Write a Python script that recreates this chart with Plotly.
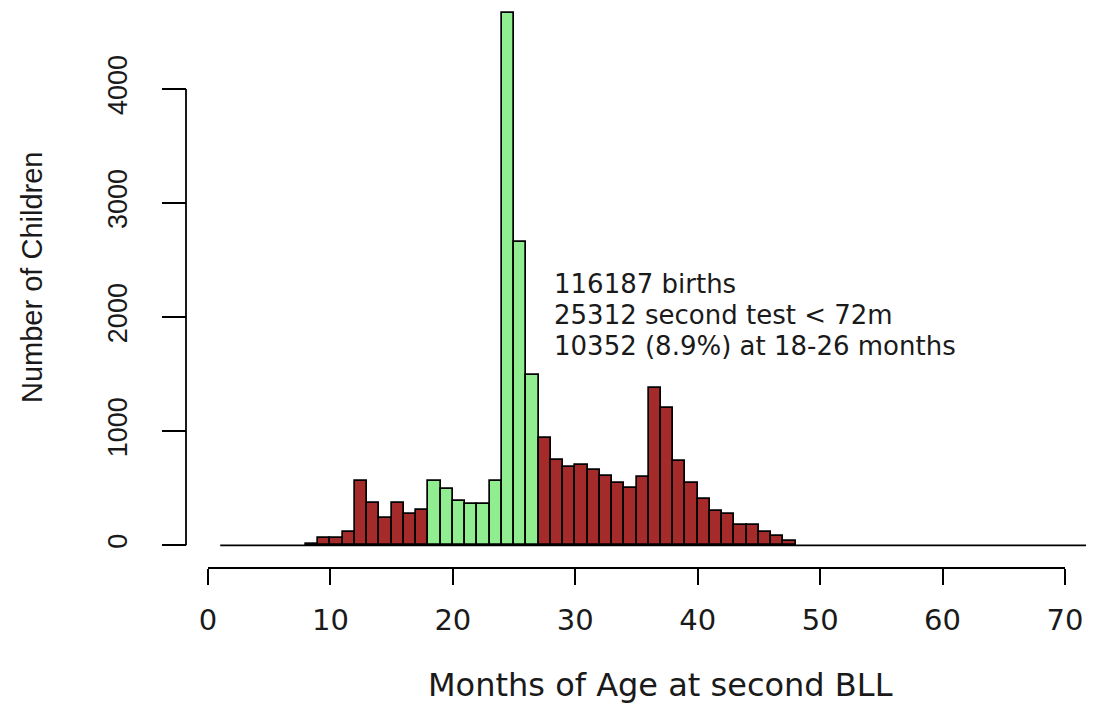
import plotly.graph_objects as go

# ---------------- data ----------------
bin_left = list(range(8, 48))          # left edges of the non-empty 1-month bins
counts = [15, 67, 65, 114, 564, 368, 242, 368, 272, 310,
          564, 494, 388, 362, 362, 564, 4665, 2662, 1492,
          945, 752, 689, 704, 660, 607, 543, 500, 596, 1382, 1200,
          739, 543, 403, 300, 272, 178, 178, 114, 82, 38]
hist_breaks = [1, 72]                   # first and last break of the histogram
highlight = [18, 27]                    # months 18-26 highlighted
x_ticks = [0, 10, 20, 30, 40, 50, 60, 70]
y_ticks = [0, 1000, 2000, 3000, 4000]
note_lines = ["116187 births", "25312 second test &lt; 72m", "10352 (8.9%) at 18-26 months"]
x_title = "Months of Age at second BLL"
y_title = "Number of Children"

# ---------------- layout geometry (pixels) ----------------
# the page body has an 8px margin, so target page pixels are shifted by OFF
OFF = 8.0
W, H = 1086, 698
px_x0, px_x70 = 208.0 - OFF, 1065.0 - OFF      # x=0, x=70
px_y0, px_y4000 = 545.3 - OFF, 89.0 - OFF      # y=0, y=4000
kx = (px_x70 - px_x0) / 70.0
ky = (px_y0 - px_y4000) / 4000.0
plot_top, plot_bot = 2.0, 556.0 - OFF
x_range = [-px_x0 / kx, (W - px_x0) / kx]
y_range = [(px_y0 - plot_bot) / ky, (px_y0 - plot_top) / ky]
y_domain = [1 - plot_bot / H, 1 - plot_top / H]
xaxis_pos = 1 - (568.0 - OFF) / H
yaxis_pos = (186.0 - OFF) / W


def py(v):  # reference page pixel y -> data y
    return (px_y0 - (v - OFF)) / ky


def px(v):  # reference page pixel x -> data x
    return ((v - OFF) - px_x0) / kx


def ppx(v):  # reference page pixel x -> paper fraction
    return (v - OFF) / W


def ppy(v):  # reference page pixel y -> paper fraction
    return 1 - (v - OFF) / H


GREEN = "#90EE90"
BROWN = "#A52A2A"
TXT = "#1a1a1a"
WIDE = "DejaVu Sans, Verdana, sans-serif"
ARIAL = "Liberation Sans, Arial, sans-serif"

colors = [GREEN if highlight[0] <= b < highlight[1] else BROWN for b in bin_left]

fig = go.Figure()
fig.add_trace(go.Scatter(
    x=[hist_breaks[0], hist_breaks[-1]], y=[0, 0], mode="lines",
    line=dict(color="black", width=1.8), hoverinfo="skip", showlegend=False))
fig.add_trace(go.Bar(
    x=bin_left, y=counts, width=1, offset=0,
    marker=dict(color=colors, line=dict(color="black", width=1.7)),
    showlegend=False))

# R-style detached axis lines
fig.add_shape(type="line", xref="x", yref="paper", x0=x_ticks[0], x1=x_ticks[-1],
              y0=xaxis_pos, y1=xaxis_pos, line=dict(color="black", width=1.8))
fig.add_shape(type="line", xref="paper", yref="y", x0=yaxis_pos, x1=yaxis_pos,
              y0=y_ticks[0], y1=y_ticks[-1], line=dict(color="black", width=1.8))

# annotation block
note_px_y = [283.5, 314.5, 345.5]
for txt, yy in zip(note_lines, note_px_y):
    fig.add_annotation(x=px(554), y=py(yy), xref="x", yref="y", text=txt,
                       showarrow=False, xanchor="left", yanchor="middle",
                       borderpad=0, borderwidth=0,
                       font=dict(family=WIDE, size=26, color=TXT))

# axis titles
fig.add_annotation(x=ppx(660), y=ppy(685), xref="paper", yref="paper", text=x_title,
                   showarrow=False, xanchor="center", yanchor="middle",
                   font=dict(family=WIDE, size=32, color=TXT))
fig.add_annotation(x=ppx(31.5), y=ppy(277.5), xref="paper", yref="paper", text=y_title,
                   showarrow=False, xanchor="center", yanchor="middle", textangle=-90,
                   font=dict(family=ARIAL, size=29, color=TXT))

fig.update_layout(
    width=W, height=H,
    margin=dict(l=0, r=0, t=0, b=0),
    paper_bgcolor="white", plot_bgcolor="white",
    bargap=0,
    xaxis=dict(domain=[0, 1], range=x_range, anchor="free", position=xaxis_pos,
               tickvals=x_ticks, ticks="outside", ticklen=16, tickwidth=1.8,
               tickcolor="black", showline=False, showgrid=False, zeroline=False,
               ticklabelstandoff=10,
               tickfont=dict(family=WIDE, size=29, color=TXT)),
    yaxis=dict(domain=y_domain, range=y_range, anchor="free", position=yaxis_pos,
               tickvals=y_ticks, ticks="outside", ticklen=24, tickwidth=1.8,
               tickcolor="black", showline=False, showgrid=False, zeroline=False,
               tickangle=-90, ticklabelstandoff=24,
               tickfont=dict(family=ARIAL, size=27, color=TXT)),
)

fig.write_html("out.html")
